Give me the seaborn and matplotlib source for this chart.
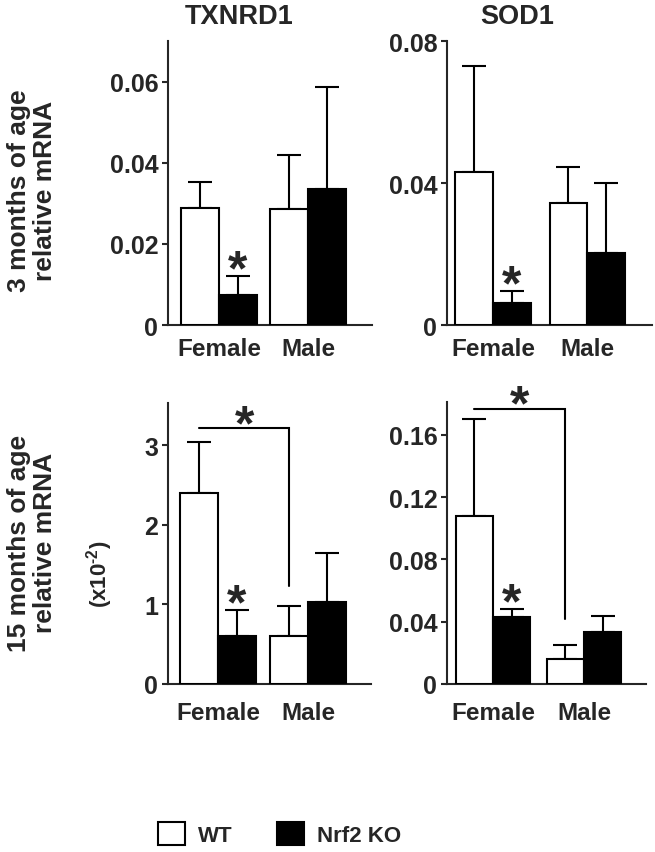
import numpy as np
import pandas as pd
import matplotlib
matplotlib.use('Agg')
import matplotlib.pyplot as plt
import seaborn as sns

# ---------------- data ----------------
sexes = ['Female', 'Male']
genotypes = ['WT', 'Nrf2 KO']
genes = ['TXNRD1', 'SOD1']
row_labels = ['3 months of age\nrelative mRNA', '15 months of age\nrelative mRNA']

txnrd1_3m_wt = [0.0289, 0.0286]
txnrd1_3m_wt_se = [0.0064, 0.0134]
txnrd1_3m_ko = [0.0074, 0.0336]
txnrd1_3m_ko_se = [0.0047, 0.0252]

sod1_3m_wt = [0.0431, 0.0344]
sod1_3m_wt_se = [0.0299, 0.0101]
sod1_3m_ko = [0.0062, 0.0203]
sod1_3m_ko_se = [0.0034, 0.0197]

txnrd1_15m_wt = [2.40, 0.60]
txnrd1_15m_wt_se = [0.64, 0.38]
txnrd1_15m_ko = [0.60, 1.03]
txnrd1_15m_ko_se = [0.33, 0.61]

sod1_15m_wt = [0.108, 0.0161]
sod1_15m_wt_se = [0.062, 0.0089]
sod1_15m_ko = [0.043, 0.0334]
sod1_15m_ko_se = [0.005, 0.0103]

yticks_txnrd1_3m = [0, 0.02, 0.04, 0.06]
yticklabels_txnrd1_3m = ['0', '0.02', '0.04', '0.06']
yticks_sod1_3m = [0, 0.04, 0.08]
yticklabels_sod1_3m = ['0', '0.04', '0.08']
yticks_txnrd1_15m = [0, 1, 2, 3]
yticklabels_txnrd1_15m = ['0', '1', '2', '3']
yticks_sod1_15m = [0, 0.04, 0.08, 0.12, 0.16]
yticklabels_sod1_15m = ['0', '0.04', '0.08', '0.12', '0.16']

# significance bracket (WT female vs WT male), 15 months
bracket_top = {'txnrd1_15m': 3.21, 'sod1_15m': 0.1767}
bracket_drop = {'txnrd1_15m': 1.23, 'sod1_15m': 0.042}

# ---------------- style ----------------
sns.set_style('ticks')
plt.rcParams['font.family'] = ['Liberation Sans', 'DejaVu Sans']
plt.rcParams['font.weight'] = 'bold'
plt.rcParams['mathtext.fontset'] = 'custom'
plt.rcParams['mathtext.rm'] = 'Liberation Sans:bold'
plt.rcParams['mathtext.it'] = 'Liberation Sans:bold'
plt.rcParams['mathtext.bf'] = 'Liberation Sans:bold'
plt.rcParams['mathtext.default'] = 'rm'

W, H = 655, 853
fig = plt.figure(figsize=(W / 100, H / 100), dpi=100)
fig.patch.set_facecolor('white')


def axpos(l, r, t, b):
    return [l / W, 1 - b / H, (r - l) / W, (b - t) / H]


panels = [
    dict(key='txnrd1_3m', pos=axpos(168, 372, 42, 326), ylim=(0, 0.0701), xlim=(-0.573, 1.72),
         width=0.85, wt=txnrd1_3m_wt, wt_se=txnrd1_3m_wt_se, ko=txnrd1_3m_ko, ko_se=txnrd1_3m_ko_se,
         yt=yticks_txnrd1_3m, ytl=yticklabels_txnrd1_3m, xpad=9),
    dict(key='sod1_3m', pos=axpos(447, 652, 42, 326), ylim=(0, 0.08), xlim=(-0.49, 1.69),
         width=0.80, wt=sod1_3m_wt, wt_se=sod1_3m_wt_se, ko=sod1_3m_ko, ko_se=sod1_3m_ko_se,
         yt=yticks_sod1_3m, ytl=yticklabels_sod1_3m, xpad=9),
    dict(key='txnrd1_15m', pos=axpos(168, 371, 404, 685), ylim=(0, 3.53), xlim=(-0.556, 1.70),
         width=0.84, wt=txnrd1_15m_wt, wt_se=txnrd1_15m_wt_se, ko=txnrd1_15m_ko, ko_se=txnrd1_15m_ko_se,
         yt=yticks_txnrd1_15m, ytl=yticklabels_txnrd1_15m, xpad=12),
    dict(key='sod1_15m', pos=axpos(447, 646, 403, 685), ylim=(0, 0.181), xlim=(-0.505, 1.68),
         width=0.82, wt=sod1_15m_wt, wt_se=sod1_15m_wt_se, ko=sod1_15m_ko, ko_se=sod1_15m_ko_se,
         yt=yticks_sod1_15m, ytl=yticklabels_sod1_15m, xpad=12),
]

LW = 1.5
STAR = 36
legend_handles = None
legend_labels = None

for p in panels:
    ax = fig.add_axes(p['pos'])
    df = pd.DataFrame({
        'sex': sexes * 2,
        'genotype': [genotypes[0]] * 2 + [genotypes[1]] * 2,
        'value': list(p['wt']) + list(p['ko']),
    })
    sns.barplot(data=df, x='sex', y='value', hue='genotype', order=sexes, hue_order=genotypes,
                palette={'WT': 'white', 'Nrf2 KO': 'black'}, edgecolor='black', linewidth=LW,
                width=p['width'], errorbar=None, ax=ax, zorder=3)
    leg = ax.get_legend()
    if legend_handles is None and leg is not None:
        legend_handles = leg.legend_handles
        legend_labels = [t.get_text() for t in leg.texts]
    if leg is not None:
        leg.remove()

    centers = {}
    for cont, g, ses in zip(ax.containers, genotypes, [p['wt_se'], p['ko_se']]):
        for bar, s, sx in zip(cont, ses, sexes):
            xc = bar.get_x() + bar.get_width() / 2
            h = bar.get_height()
            centers[(g, sx)] = (xc, h + s)
            ax.errorbar([xc], [h], yerr=[[0], [s]], fmt='none', ecolor='black',
                        elinewidth=LW, capsize=8.6, capthick=LW, zorder=2)

    # star above Nrf2 KO female bar
    xk, yk = centers[('Nrf2 KO', 'Female')]
    ax.annotate('*', xy=(xk, yk), xytext=(0, -6), textcoords='offset points',
                ha='center', va='baseline', fontsize=STAR, fontweight='bold', annotation_clip=False)

    if p['key'] in bracket_top:
        xa = centers[('WT', 'Female')][0]
        xb = centers[('WT', 'Male')][0]
        yt = bracket_top[p['key']]
        yd = bracket_drop[p['key']]
        ax.plot([xa, xb, xb], [yt, yt, yd], color='black', lw=LW, clip_on=False,
                solid_joinstyle='miter', zorder=4)
        ax.annotate('*', xy=((xa + xb) / 2, yt), xytext=(0, -7.5), textcoords='offset points',
                    ha='center', va='baseline', fontsize=STAR, fontweight='bold',
                    annotation_clip=False)

    ax.set_xlim(*p['xlim'])
    ax.set_ylim(*p['ylim'])
    ax.set_yticks(p['yt'])
    ax.set_yticklabels(p['ytl'])
    ax.set_xlabel('')
    ax.set_ylabel('')
    sns.despine(ax=ax)
    for sp in ['left', 'bottom']:
        ax.spines[sp].set_linewidth(LW)
    ax.tick_params(axis='y', length=4, width=LW, pad=3, labelsize=18, direction='out')
    ax.tick_params(axis='x', length=0, pad=p['xpad'], labelsize=17.5)
    for lab in ax.get_xticklabels() + ax.get_yticklabels():
        lab.set_fontweight('bold')
    ax.set_facecolor('none')

# titles
fig.text(239 / W, 1 - 17 / H, genes[0], ha='center', va='center', fontsize=19.5, fontweight='bold')
fig.text(517 / W, 1 - 17 / H, genes[1], ha='center', va='center', fontsize=19.5, fontweight='bold')

# row labels
fig.text(32 / W, 1 - 191 / H, row_labels[0], rotation=90, ha='center', va='center',
         fontsize=19, fontweight='bold', linespacing=1.1, multialignment='center')
fig.text(32 / W, 1 - 543 / H, row_labels[1], rotation=90, ha='center', va='center',
         fontsize=19, fontweight='bold', linespacing=1.1, multialignment='center')

# scale note
fig.text(100 / W, 1 - 574 / H, r'(x10$^{\text{-2}}$)', rotation=90, ha='center', va='center',
         fontsize=16, fontweight='bold')

# legend
fig.legend(legend_handles, legend_labels, loc='center left',
           bbox_to_anchor=(158 / W, 1 - 835 / H), ncol=2, frameon=False,
           handlelength=1.2, handleheight=1.2, handletextpad=0.6, columnspacing=2.0,
           borderpad=0, borderaxespad=0, prop={'size': 16, 'weight': 'bold'})
for h in legend_handles:
    h.set_linewidth(LW)
    h.set_edgecolor('black')

fig.savefig('out.png', dpi=100, facecolor='white')
